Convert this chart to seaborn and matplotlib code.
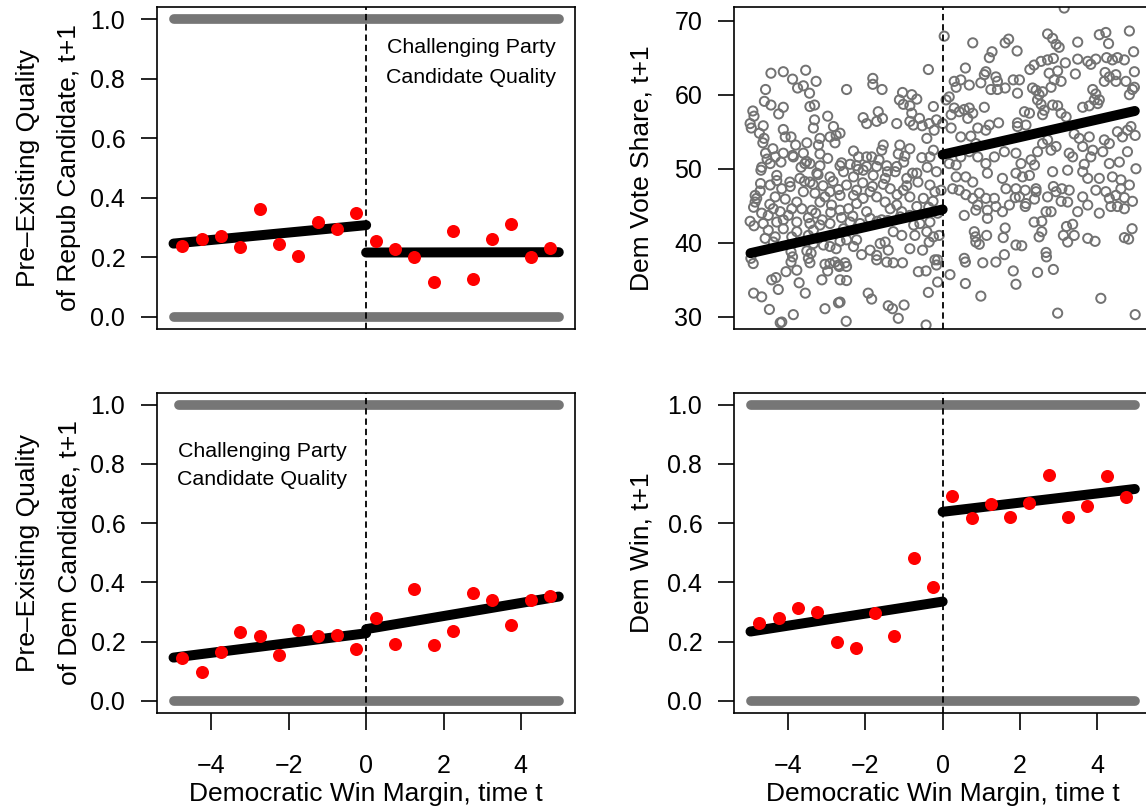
import matplotlib
matplotlib.use("Agg")
import matplotlib.pyplot as plt
import seaborn as sns

sns.set_theme(style="white")
plt.rcParams['font.family'] = ['Liberation Sans', 'DejaVu Sans']
plt.rcParams['axes.unicode_minus'] = True
for k in ['text.color', 'axes.labelcolor', 'xtick.color', 'ytick.color', 'axes.edgecolor']:
    plt.rcParams[k] = 'black'

# ---------------- data ----------------
bin_x = [-4.75, -4.25, -3.75, -3.25, -2.75, -2.25, -1.75, -1.25, -0.75, -0.25,
         0.25, 0.75, 1.25, 1.75, 2.25, 2.75, 3.25, 3.75, 4.25, 4.75]
rep_bin_y = [0.238, 0.261, 0.272, 0.233, 0.363, 0.244, 0.204, 0.317, 0.294, 0.348,
             0.256, 0.229, 0.202, 0.118, 0.287, 0.127, 0.261, 0.312, 0.202, 0.230]
dem_bin_y = [0.144, 0.098, 0.165, 0.231, 0.219, 0.155, 0.239, 0.219, 0.222, 0.174,
             0.280, 0.192, 0.378, 0.189, 0.237, 0.365, 0.340, 0.256, 0.340, 0.354]
win_bin_y = [0.264, 0.280, 0.312, 0.301, 0.200, 0.180, 0.298, 0.219, 0.481, 0.385,
             0.691, 0.616, 0.666, 0.621, 0.669, 0.762, 0.621, 0.657, 0.758, 0.689]

fit_x_left = [-4.98, 0.0]
fit_x_right = [0.0, 4.98]
rep_fit_left = [0.246, 0.308]
rep_fit_right = [0.216, 0.217]
dem_fit_left = [0.146, 0.228]
dem_fit_right = [0.242, 0.352]
win_fit_left = [0.234, 0.335]
win_fit_right = [0.638, 0.715]
vote_fit_left = [38.6, 44.5]
vote_fit_right = [51.9, 57.8]

# extents of the binary-outcome rows (observations at 0 and at 1)
rep_one_x = [-4.98, 4.98]
rep_zero_x = [-4.98, 4.98]
dem_one_x = [-4.85, 4.98]
dem_zero_x = [-4.98, 4.98]
win_one_x = [-4.98, 4.98]
win_zero_x = [-4.98, 4.98]
row_one_y = [1.0, 1.0]
row_zero_y = [0.0, 0.0]

# Dem vote share t+1 scatter (x = margin at t, y = vote share)
vote_x = [
 -4.45, -4.13, -3.55, -3.89, -3.76, -3.61, -3.45, -3.28, -4.59, -4.62,
 -4.45, -4.13, -4.25, -3.44, -3.32, -4.92, -4.89, -4.99, -4.96, -4.65,
 -4.75, -4.63, -4.66, -4.13, -4.08, -3.93, -3.81, -3.52, -3.32, -3.35,
 -2.98, -2.83, -2.92, -2.76, -2.66, -2.79, -3.18, -3.22, -3.18, -2.49,
 -1.81, -1.81, -1.57, -2.06, -1.97, -1.71, -1.56, -1.67, -1.19, -1.04,
 -0.80, -1.12, -1.02, -0.85, -0.67, -0.80, -0.60, -0.85, -0.76, -0.53,
 -0.35, -0.24, -0.16, -0.37, -2.31, -2.18, -1.97, -1.84, -1.54, -1.58,
 -1.11, -1.15, -0.85, -0.98, -0.54, -0.33, -0.24, -0.41, -0.22, -4.34,
 -4.13, -3.87, -4.40, -4.59, -4.47, -4.69, -3.61, -3.57, -3.44, -3.18,
 -2.66, -2.23, -1.97, -1.71, -1.45, -1.19,
 0.04, 0.78, 1.62, 1.71, 1.93, 1.21, 1.28, 2.72, 2.85, 2.94,
 3.02, 3.50, 4.06, 4.23, 4.30, 4.84, 4.95, 3.15, 0.59, 1.12,
 1.08, 1.38, 1.42, 0.30, 0.47, 0.35, 0.69, 0.99, 1.25, 1.42,
 1.62, 1.83, 1.99, 1.94, 2.26, 2.37, 2.55, 2.72, 2.87, 3.18,
 2.98, 2.76, 2.89, 3.07, 2.81, 3.44, 3.50, 3.76, 3.84, 3.97,
 4.25, 4.40, 4.53, 4.71, 4.97, 4.21, 4.32, 4.49, 4.19, 4.49,
 4.75, 4.97, 4.84, 4.92, 3.89, 3.97, 3.93, 4.06, 2.33, 2.42,
 2.50, 2.59, 2.46, 2.55, 2.63, 2.85, 2.98, 3.07, 3.20, 3.63,
 3.80, 4.02, 0.09, 0.17, 0.22, 0.30, 0.43, 0.56, 0.69, 0.78,
 0.65, 1.08, 1.45, 1.21, 1.12, 0.91, 0.00, 0.22, 1.94, 2.12,
 2.25, 2.16, 1.94, 2.59, 4.53, 4.79, 4.99, 4.88, 4.66, 4.19,
 4.32, 3.80, 3.63, 3.54, 3.89, 4.15, 4.32, 4.58, 4.79, 5.01,
 3.41, 0.73, 0.86, 0.91, 1.12, 1.34, 1.60, 1.90, 2.03, 2.29,
 2.38, 2.46, 2.59, 2.72, 2.81, 2.94, 3.28, 3.37, 3.67, 3.84,
 0.17, 0.35, 0.47, 0.69, 0.47,
 4.99, 4.10, 2.98, 0.99, 0.59, 0.19, 1.90, 1.83, 2.46, 2.87,
 2.68, 2.69, 1.60, 1.38, 1.04, 0.59, 0.56, 1.90, 2.05, 0.86,
 0.95, 0.85, 0.82, 1.14, 1.62, 1.57, 2.37, 2.57, 2.50, 2.57,
 3.13, 3.24, 3.21, 3.37, 3.41, 3.76, 3.95, 4.71, 4.82, 4.91,
 2.68, 2.81, 2.14, 2.16, 1.55, 1.16, 1.16, 0.86, 0.56, 0.91,
 1.38, 1.73, 1.88, 1.99, 2.38, 2.42, 2.72, 3.07, 3.24, 3.50,
 3.76, 4.06, 4.36, 4.53, 4.71, 4.92, 4.32, 4.49, 4.71, 4.23,
 3.97, 3.63, 3.28, 3.09, 2.87, 2.94, 2.42, 2.14, 1.90, 1.64,
 1.34, 1.12, 0.95, 0.78, 0.60, 0.43, 0.26, 0.35, 0.60, 0.78,
 1.16, 1.55, 1.90, 2.07, 2.25, 2.85, 3.24, 3.63, 3.76, 4.06,
 4.40, 4.62, 4.84, 4.62, -0.04, -0.13, -0.09, -0.13, -0.13,
 -4.71, -4.72, -4.86, -4.82, -4.86, -4.99, -4.89, -4.97, -4.91, -4.90,
 -4.69, -4.49, -4.21, -4.17, -3.87, -4.26, -4.43, -4.32, -4.06, -3.72,
 -3.56, -3.78, -3.93, -3.89, -3.93, -3.48, -3.44, -3.41, -3.52, -3.13,
 -2.98, -2.92, -3.05, -2.70, -2.79, -2.53, -2.68, -2.49, -2.66, -2.49,
 -3.05, -2.70, -2.66, -2.50, -1.93, -1.84, -1.41, -1.30, -1.00, -1.15,
 -0.63, -0.37, -0.43, -1.71, -1.71, -1.45, -1.28, -1.04, -0.52, -0.43,
 -0.20, -0.16, -0.35, -0.24, -0.85, -0.72, -1.06, -1.28, -1.49, -1.41,
 -1.62, -1.88, -2.10, -2.23, -2.31, -2.49, -2.66, -2.76, -2.92, -3.09,
 -3.35, -3.22, -3.48, -3.78, -4.13, -4.34, -4.39, -4.60, -4.52, -3.91,
 -4.30, -4.13, -4.00, -3.91, -4.21, -4.39, -4.52, -4.69, -4.65, -3.78,
 -3.65, -3.39, -3.18, -3.05, -2.92, -2.88, -2.66, -2.44, -2.23, -2.06,
 -1.88, -1.71, -1.49, -1.36, -1.19, -1.06, -0.85, -0.67, -0.50, -0.33,
 -0.20, -0.16, -0.67, -0.93, -1.23, -1.49, -1.80, -2.06, -2.31, -2.57,
 -2.92, -3.26, -3.44, -3.70, -3.96, -4.17, -4.34, -4.47, -4.30, -3.61,
 -3.31, -2.49, -2.66, -2.23, -1.36, -1.02, -0.85, -1.58, -1.88, -2.14,
 -2.40, -2.57, -3.18, -2.92, -3.44, -3.35, -0.59, -0.33, -0.41,
 # extra points read from a closer look at the dense left cluster
 -4.55, -4.19, -3.89, -3.67, -3.53, -3.23, -2.98, -2.62, -2.40, -2.19,
 -1.65, -1.43, -1.01, -0.78, -0.40, -4.73, -4.30, -3.95, -3.58, -3.36,
 -3.10, -2.84, -2.70, -2.31, -2.07, -1.82, -1.54, -1.18, -0.93, -0.64,
 -0.36, -4.90, -4.48, -4.08, -3.78, -3.48, -3.29, -3.12, -2.90, -2.62,
 -2.33, -1.97, -1.70, -1.42, -1.10, -0.75, -0.25,
]
vote_y = [
 62.9, 63.1, 63.3, 62.1, 60.9, 61.2, 60.2, 61.8, 60.7, 59.1,
 58.6, 58.3, 57.4, 58.4, 58.6, 57.8, 57.1, 56.1, 55.5, 55.8,
 54.8, 54.1, 53.5, 55.3, 54.3, 54.3, 53.2, 53.5, 56.6, 55.5,
 57.1, 55.7, 54.3, 54.5, 54.8, 53.5, 54.1, 53.2, 52.0, 60.7,
 62.2, 61.4, 60.7, 56.9, 56.1, 56.4, 56.8, 57.7, 56.1, 60.3,
 60.0, 59.3, 58.7, 58.5, 59.4, 57.5, 56.8, 56.4, 55.9, 55.8,
 56.1, 58.4, 56.6, 63.4, 52.4, 51.6, 51.6, 51.6, 53.2, 52.5,
 53.2, 52.0, 52.7, 51.7, 51.5, 51.6, 52.5, 54.1, 55.2, 51.6,
 52.1, 51.6, 52.7, 52.1, 50.7, 50.2, 52.1, 50.7, 50.7, 50.4,
 50.4, 50.4, 50.3, 50.3, 50.4, 50.3,
 67.9, 67.0, 67.0, 67.5, 65.9, 65.0, 65.8, 68.2, 67.6, 66.8,
 66.4, 67.1, 68.1, 68.4, 66.9, 68.6, 65.8, 71.7, 63.6, 63.1,
 62.7, 62.4, 61.8, 61.8, 62.0, 61.0, 61.3, 61.6, 60.7, 60.7,
 60.9, 62.0, 62.0, 60.2, 63.4, 64.0, 64.5, 64.7, 64.9, 64.3,
 63.2, 62.9, 62.0, 61.8, 61.0, 62.8, 64.8, 64.5, 64.1, 64.8,
 65.0, 64.7, 65.0, 64.7, 63.1, 63.0, 62.4, 62.7, 61.8, 61.8,
 61.8, 61.0, 60.0, 60.7, 60.7, 60.1, 59.3, 59.3, 60.9, 60.6,
 60.0, 60.4, 59.3, 58.7, 57.9, 58.6, 58.5, 57.5, 57.0, 58.3,
 58.5, 58.8, 59.3, 59.7, 57.3, 58.2, 57.7, 58.0, 58.2, 57.5,
 56.8, 58.3, 56.2, 55.9, 55.2, 55.5, 56.1, 55.5, 56.2, 57.7,
 57.5, 55.9, 55.7, 57.3, 55.0, 55.2, 54.5, 55.7, 54.3, 53.9,
 53.4, 54.3, 53.0, 54.1, 52.5, 52.3, 50.7, 50.9, 52.3, 50.0,
 54.7, 54.4, 53.4, 51.6, 50.7, 51.6, 52.3, 52.1, 50.7, 51.2,
 50.5, 52.3, 53.4, 53.9, 52.5, 53.0, 52.1, 51.6, 50.6, 51.6,
 50.7, 50.5, 51.6, 52.3, 54.3,
 30.3, 32.5, 30.5, 32.8, 34.5, 35.7, 34.4, 36.2, 36.0, 36.4,
 38.7, 38.1, 38.4, 37.4, 37.3, 37.4, 37.9, 39.7, 39.6, 40.1,
 39.8, 40.8, 41.5, 41.0, 42.0, 40.7, 42.8, 42.9, 40.8, 41.5,
 41.0, 40.1, 42.2, 42.5, 41.0, 40.6, 40.2, 40.7, 40.5, 41.9,
 44.2, 44.2, 44.9, 45.3, 44.2, 43.3, 44.4, 44.4, 43.7, 45.1,
 44.9, 45.1, 46.1, 46.2, 45.9, 46.9, 46.2, 45.6, 45.5, 44.2,
 45.1, 44.0, 44.9, 44.9, 44.6, 45.6, 46.0, 46.4, 46.1, 46.9,
 47.1, 46.2, 47.1, 47.3, 47.6, 46.9, 47.3, 47.1, 47.3, 47.3,
 46.0, 46.0, 46.7, 46.0, 46.5, 47.1, 47.3, 48.9, 48.9, 48.2,
 49.4, 48.7, 49.4, 48.9, 49.1, 49.6, 49.8, 49.6, 48.7, 48.7,
 48.9, 48.5, 47.8, 47.3, 47.1, 44.0, 41.0, 37.7, 34.7,
 49.8, 48.0, 46.4, 46.0, 45.5, 42.9, 42.3, 37.9, 37.2, 33.2,
 32.7, 31.0, 29.2, 29.3, 30.3, 33.7, 35.0, 35.3, 36.1, 34.6,
 33.2, 36.3, 37.4, 38.1, 38.8, 37.9, 37.3, 38.6, 38.9, 35.0,
 36.2, 37.2, 37.1, 37.0, 37.4, 37.3, 36.8, 36.8, 35.0, 34.9,
 31.1, 31.9, 32.0, 29.4, 33.2, 32.4, 31.5, 31.1, 31.6, 29.8,
 36.1, 33.3, 28.9, 38.3, 37.7, 37.4, 37.3, 37.3, 39.0, 36.2,
 37.7, 37.0, 40.1, 40.8, 39.2, 41.0, 41.0, 41.5, 40.1, 39.0,
 39.9, 39.0, 38.4, 40.4, 39.5, 40.4, 40.2, 39.2, 39.5, 39.7,
 39.9, 40.6, 41.0, 41.5, 41.9, 40.8, 40.1, 40.6, 41.7, 40.8,
 42.8, 43.1, 43.7, 44.6, 44.2, 44.6, 43.7, 44.0, 42.6, 45.5,
 44.6, 44.4, 45.5, 46.2, 46.9, 45.1, 44.4, 44.6, 45.3, 46.0,
 46.9, 46.2, 45.5, 44.6, 45.1, 44.2, 43.7, 44.9, 46.0, 47.8,
 46.9, 49.6, 49.4, 48.7, 49.6, 48.7, 49.1, 49.8, 48.9, 49.6,
 48.9, 49.4, 48.2, 48.7, 48.2, 47.3, 46.2, 47.8, 49.1, 46.9,
 46.7, 47.8, 46.4, 47.1, 47.3, 47.1, 46.2, 43.1, 43.3, 42.6,
 42.8, 41.9, 42.4, 42.6, 42.6, 41.7, 42.6, 42.8, 41.5,
 # extra points
 51.3, 50.9, 51.8, 50.2, 51.0, 49.2, 51.4, 50.8, 50.6, 49.9,
 51.2, 49.6, 50.9, 49.4, 50.2, 47.0, 48.4, 47.6, 48.3, 47.9,
 47.7, 48.3, 47.2, 46.4, 48.1, 47.6, 47.9, 46.5, 47.7, 48.2,
 44.8, 44.8, 45.2, 45.9, 42.8, 43.4, 44.0, 43.1, 44.1, 43.4,
 43.6, 44.2, 42.9, 43.0, 43.5, 42.4, 45.6,
]

prob_ticks = [0.0, 0.2, 0.4, 0.6, 0.8, 1.0]
prob_tick_labels = ['0.0', '0.2', '0.4', '0.6', '0.8', '1.0']
vote_ticks = [30, 40, 50, 60, 70]
margin_ticks = [-4, -2, 0, 2, 4]

# ---------------- style ----------------
GREY = '#767676'
W, H = 1146, 810
fig = plt.figure(figsize=(W / 100, H / 100), dpi=100)


def place(l, r, t, b):
    return [l / W, 1 - b / H, (r - l) / W, (b - t) / H]


ax_tl = fig.add_axes(place(157.3, 575.0, 7.3, 328.7))
ax_tr = fig.add_axes(place(734.3, 1151.0, 7.3, 328.7))
ax_bl = fig.add_axes(place(157.3, 575.0, 392.7, 712.7))
ax_br = fig.add_axes(place(734.3, 1151.0, 392.7, 712.7))


def band(ax, xs, ys):
    sns.lineplot(x=xs, y=ys, ax=ax, color=GREY, linewidth=7.0,
                 solid_capstyle='round', zorder=2, legend=False)


def fit(ax, xs, ys):
    sns.lineplot(x=xs, y=ys, ax=ax, color='black', linewidth=7.2,
                 solid_capstyle='round', zorder=3, legend=False)


def red(ax, ys):
    sns.scatterplot(x=bin_x, y=ys, ax=ax, color='#ff0000', s=88,
                    linewidth=0, zorder=4, legend=False)


def frame(ax, ylim, yticks, yticklabels, bottom):
    ax.set_xlim(-5.4, 5.4)
    ax.set_ylim(*ylim)
    ax.set_yticks(yticks)
    ax.set_yticklabels(yticklabels)
    ax.set_xlabel('')
    ax.set_ylabel('')
    for sp in ax.spines.values():
        sp.set_visible(True)
        sp.set_color('black')
        sp.set_linewidth(1.2)
    ax.tick_params(axis='y', left=True, direction='out', length=11.5,
                   width=1.2, labelsize=18, pad=11.5, color='black')
    if bottom:
        ax.set_xticks(margin_ticks)
        ax.tick_params(axis='x', bottom=True, direction='out', length=12,
                       width=1.2, labelsize=18, pad=18, color='black')
    else:
        ax.set_xticks([])
    ax.axvline(0, color='black', linewidth=1.3, linestyle=(0, (3.5, 2.2)),
               zorder=5)
    ax.grid(False)


# top-left: Repub candidate quality
band(ax_tl, rep_one_x, row_one_y)
band(ax_tl, rep_zero_x, row_zero_y)
fit(ax_tl, fit_x_left, rep_fit_left)
fit(ax_tl, fit_x_right, rep_fit_right)
red(ax_tl, rep_bin_y)
frame(ax_tl, (-0.04, 1.04), prob_ticks, prob_tick_labels, False)
ax_tl.text(2.71, 0.887, "Challenging Party", ha='center', va='baseline', fontsize=15.4)
ax_tl.text(2.71, 0.787, "Candidate Quality", ha='center', va='baseline', fontsize=15.4)

# top-right: Dem vote share
sns.scatterplot(x=vote_x, y=vote_y, ax=ax_tr, marker='o', s=44,
                facecolor='none', edgecolor='#727272', linewidth=1.4,
                zorder=2, legend=False)
fit(ax_tr, fit_x_left, vote_fit_left)
fit(ax_tr, fit_x_right, vote_fit_right)
frame(ax_tr, (28.4, 71.8), vote_ticks, [str(v) for v in vote_ticks], False)

# bottom-left: Dem candidate quality
band(ax_bl, dem_one_x, row_one_y)
band(ax_bl, dem_zero_x, row_zero_y)
fit(ax_bl, fit_x_left, dem_fit_left)
fit(ax_bl, fit_x_right, dem_fit_right)
red(ax_bl, dem_bin_y)
frame(ax_bl, (-0.04, 1.04), prob_ticks, prob_tick_labels, True)
ax_bl.text(-2.68, 0.823, "Challenging Party", ha='center', va='baseline', fontsize=15.4)
ax_bl.text(-2.68, 0.727, "Candidate Quality", ha='center', va='baseline', fontsize=15.4)

# bottom-right: Dem win
band(ax_br, win_one_x, row_one_y)
band(ax_br, win_zero_x, row_zero_y)
fit(ax_br, fit_x_left, win_fit_left)
fit(ax_br, fit_x_right, win_fit_right)
red(ax_br, win_bin_y)
frame(ax_br, (-0.04, 1.04), prob_ticks, prob_tick_labels, True)

# axis titles
LAB = 19


def ylab(xpx, ypx, s):
    fig.text(xpx / W, 1 - ypx / H, s, rotation=90, rotation_mode='anchor',
             ha='center', va='baseline', fontsize=LAB)


ylab(35, 168, "Pre\u2013Existing Quality")
ylab(76, 168, "of Repub Candidate, t+1")
ylab(649, 168, "Dem Vote Share, t+1")
ylab(35, 552.7, "Pre\u2013Existing Quality")
ylab(76, 552.7, "of Dem Candidate, t+1")
ylab(649, 552.7, "Dem Win, t+1")
for xc in (366.15, 942.65):
    fig.text(xc / W, 1 - 801 / H, "Democratic Win Margin, time t",
             ha='center', va='baseline', fontsize=LAB)

fig.savefig('out.png', dpi=100)
